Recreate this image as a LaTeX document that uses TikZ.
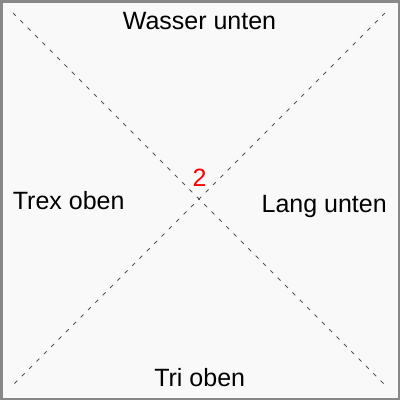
\documentclass[tikz,border=0pt]{standalone}
\usepackage{fontspec}
\setmainfont{Liberation Sans}
\definecolor{bgfill}{HTML}{F9F9F9}
\definecolor{frame}{HTML}{888888}
\definecolor{diag}{HTML}{555555}
\begin{document}
\begin{tikzpicture}[x=1pt,y=-1pt,
  lbl/.style={anchor=base,inner sep=0pt,font=\fontsize{25}{30}\selectfont},
  numlbl/.style={lbl,text=red},
  diagline/.style={draw=diag,line width=1pt,dash pattern=on 4pt off 6.4pt}]
\useasboundingbox (0,0) rectangle (400,400);
\draw[frame,fill=bgfill,line width=2.5pt] (1.25,1.25) rectangle (398.75,398.75);
\coordinate (tl) at (13,13);
\coordinate (br) at (384,384);
\coordinate (tr) at (385,13);
\coordinate (bl) at (13,385);
\draw[diagline] (tl) -- (br);
\draw[diagline] (tr) -- (bl);
\node[lbl] (top) at (199.5,29.3) {Wasser unten};
\node[lbl] (left) at (68.7,209) {Trex oben};
\node[lbl] (right) at (324.2,212) {Lang unten};
\node[lbl] (bottom) at (199.7,386) {Tri oben};
\node[numlbl] (num) at (199.7,186.7) {2};
\end{tikzpicture}
\end{document}
